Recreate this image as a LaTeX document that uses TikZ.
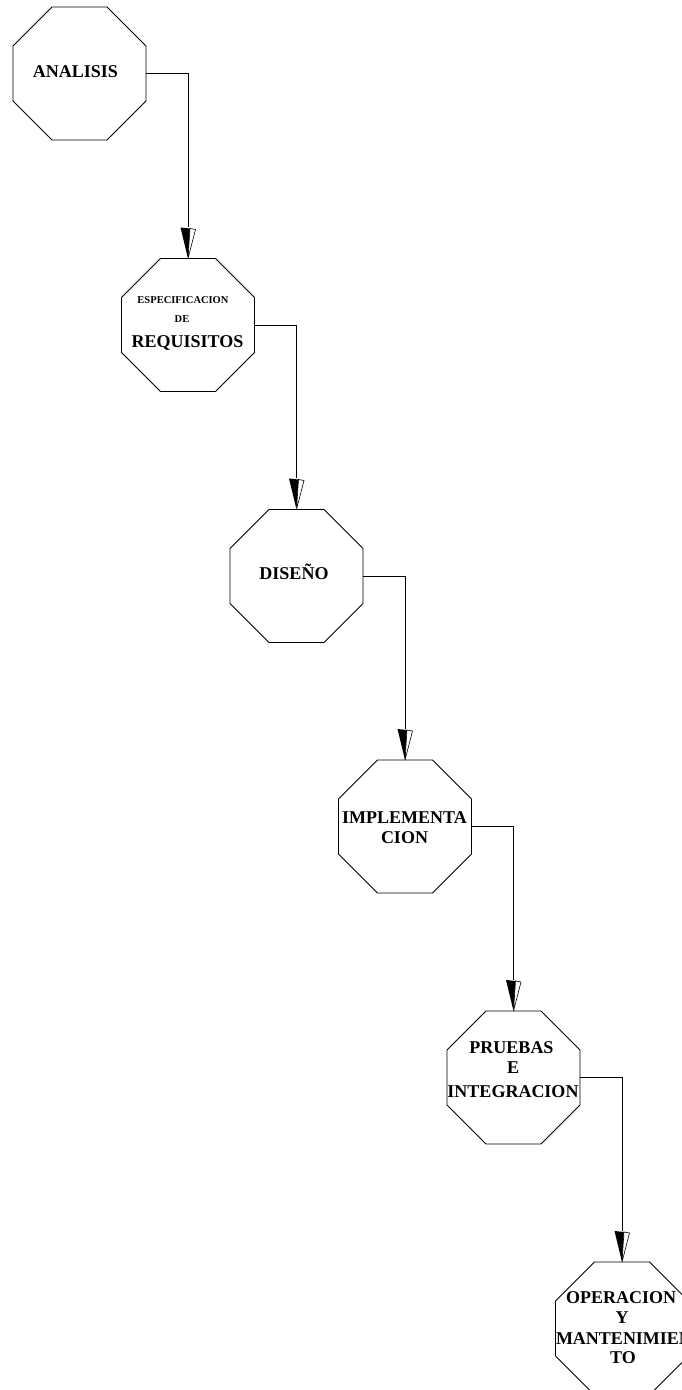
\documentclass[tikz,border=0pt]{standalone}
\usepackage{fontspec}
\setmainfont{Liberation Serif}
\usetikzlibrary{shapes.geometric,calc}
\newcommand\myarrowhd[1]{%
  \fill ([shift={(-7.5pt,31pt)}]#1.north) -- ([shift={(2pt,30pt)}]#1.north) -- (#1.north) -- cycle;
  \filldraw[fill=white, line width=0.6pt] ([shift={(2pt,30pt)}]#1.north) -- ([shift={(7.5pt,29pt)}]#1.north) -- (#1.north) -- cycle;
}
\begin{document}
\begin{tikzpicture}[x=1pt,y=-1pt,
  oct/.style={draw, line width=0.9pt, regular polygon, regular polygon sides=8, minimum size=143.96pt, inner sep=0pt, outer sep=0pt},
  lbl/.style={anchor=base, inner sep=0pt, font=\bfseries\fontsize{18}{20}\selectfont},
  slbl/.style={anchor=base, inner sep=0pt, font=\bfseries\fontsize{10.5}{12}\selectfont},
  conn/.style={draw, line width=0.9pt},
]
\fill[white] (0,0) rectangle (681,1390);
\useasboundingbox (0,0) rectangle (681,1390);

\node[oct] (n1) at (79.5,73.5) {};
\node[oct] (n2) at (188,325) {};
\node[oct] (n3) at (296.5,576) {};
\node[oct] (n4) at (405,826.5) {};
\node[oct] (n5) at (513.5,1077.5) {};
\node[oct] (n6) at (622,1328.5) {};

\node[lbl] (t1) at (75.5,77) {ANALISIS};
\node[slbl] (t2a) at (183,303) {ESPECIFICACION};
\node[slbl] (t2b) at (182,322) {DE};
\node[lbl] (t2c) at (187.5,347) {REQUISITOS};
\node[lbl] (t3) at (294,579) {DISEÑO};
\node[lbl] (t4a) at (404.5,823) {IMPLEMENTA};
\node[lbl] (t4b) at (404.5,843) {CION};
\node[lbl] (t5a) at (511.5,1053) {PRUEBAS};
\node[lbl] (t5b) at (513,1073) {E};
\node[lbl] (t5c) at (513,1097) {INTEGRACION};
\node[lbl] (t6a) at (621,1303) {OPERACION};
\node[lbl] (t6b) at (622,1323) {Y};
\node[lbl] (t6c) at (624,1344) {MANTENIMIEN};
\node[lbl] (t6d) at (623,1363) {TO};

\coordinate (a2) at ([yshift=31pt]n2.north);
\coordinate (a3) at ([yshift=31pt]n3.north);
\coordinate (a4) at ([yshift=31pt]n4.north);
\coordinate (a5) at ([yshift=31pt]n5.north);
\coordinate (a6) at ([yshift=31pt]n6.north);

\draw[conn] (n1.east) -| (a2);
\draw[conn] (n2.east) -| (a3);
\draw[conn] (n3.east) -| (a4);
\draw[conn] (n4.east) -| (a5);
\draw[conn] (n5.east) -| (a6);

\myarrowhd{n2}
\myarrowhd{n3}
\myarrowhd{n4}
\myarrowhd{n5}
\myarrowhd{n6}
\end{tikzpicture}
\end{document}
